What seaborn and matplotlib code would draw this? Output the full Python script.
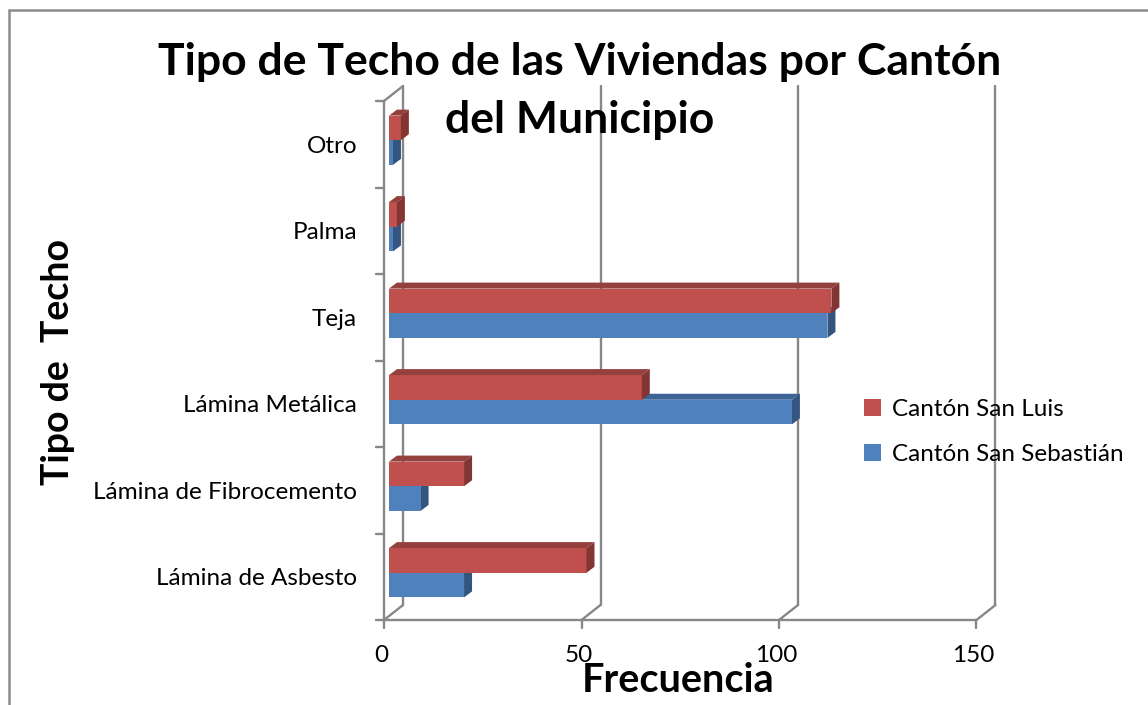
import numpy as np
import pandas as pd
import seaborn as sns
import matplotlib
matplotlib.use("Agg")
import matplotlib.pyplot as plt
from matplotlib.patches import Polygon, Patch
from matplotlib.lines import Line2D

# ---- data ----
categories = ["Otro", "Palma", "Teja", "Lámina Metálica",
              "Lámina de Fibrocemento", "Lámina de Asbesto"]
san_luis = [3, 2, 112, 64, 19, 50]
san_sebastian = [1, 1, 111, 102, 8, 19]
series_names = ["Cantón San Luis", "Cantón San Sebastián"]
x_ticks = [0, 50, 100, 150]
title_lines = ["Tipo de Techo de las Viviendas por Cantón", "del Municipio"]
x_label = "Frecuencia"
y_label = "Tipo de  Techo"

df = pd.DataFrame({
    "Tipo": categories * 2,
    "Frecuencia": san_luis + san_sebastian,
    "Serie": [series_names[0]] * len(categories) + [series_names[1]] * len(categories),
})

sns.set_theme(style="white")
plt.rcParams["font.family"] = ["Lato", "DejaVu Sans"]
plt.rcParams["text.color"] = "black"

W, H = 1148, 705
fig = plt.figure(figsize=(W / 100, H / 100), dpi=100)
fig.patch.set_facecolor("white")


def px(x0, y0, x1, y1):
    return [x0 / W, 1 - y1 / H, (x1 - x0) / W, (y1 - y0) / H]


# bar plane
bx0, by0, bx1, by1 = 389, 97, 981.5, 616
ax = fig.add_axes(px(bx0, by0, bx1, by1))
palette = {series_names[0]: "#C0504D", series_names[1]: "#4F81BD"}
top_col = {series_names[0]: "#94403D", series_names[1]: "#3D6496"}
side_col = {series_names[0]: "#833533", series_names[1]: "#34557F"}

sns.barplot(data=df, y="Tipo", x="Frecuencia", hue="Serie", hue_order=series_names,
            order=categories, palette=palette, width=0.57, orient="h", ax=ax,
            legend=False, saturation=1, edgecolor="none", linewidth=0, zorder=3)
ax.set_xlim(0, 150)
ax.set_ylim(len(categories) - 0.5, -0.5)
ax.axis("off")

xpu = (bx1 - bx0) / 150.0          # px per x unit
ypu = (by1 - by0) / len(categories)  # px per y unit (down)


def off(x, y, dx, dy_down):
    return x + dx / xpu, y + dy_down / ypu


grid = "#878787"
glw = 1.7
ybot, ytop = len(categories) - 0.5, -0.5
BACK = (14, -11)
FRONT = (-5, 4)
FS = 17.5

# back wall gridlines
for v in x_ticks:
    a = off(v, ybot, *BACK)
    b = off(v, ytop, *BACK)
    ax.plot([a[0], b[0]], [a[1], b[1]], color=grid, lw=glw, zorder=1, clip_on=False)

# front left axis
a = off(0, ybot, *FRONT)
b = off(0, ytop, *FRONT)
ax.plot([a[0], b[0]], [a[1], b[1]], color=grid, lw=glw, zorder=1, clip_on=False)
for bnd in np.arange(-0.5, len(categories), 1.0):
    p = off(0, bnd, *FRONT)
    ax.plot([p[0] - 8 / xpu, p[0]], [p[1], p[1]], color=grid, lw=glw, zorder=1, clip_on=False)
# top-left diagonal
a = off(0, ytop, *FRONT)
b = off(0, ytop, *BACK)
ax.plot([a[0], b[0]], [a[1], b[1]], color=grid, lw=glw, zorder=1, clip_on=False)

# floor front line + ticks + diagonals
a = off(0, ybot, *FRONT)
b = off(150, ybot, *FRONT)
ax.plot([a[0], b[0]], [a[1], b[1]], color=grid, lw=glw, zorder=1, clip_on=False)
for v in x_ticks:
    p = off(v, ybot, *FRONT)
    q = off(v, ybot, *BACK)
    ax.plot([p[0], p[0]], [p[1], p[1] + 8 / ypu], color=grid, lw=glw, zorder=1, clip_on=False)
    ax.plot([p[0], q[0]], [p[1], q[1]], color=grid, lw=glw, zorder=1, clip_on=False)
    ax.text(p[0] - 3 / xpu, p[1] + 35 / ypu, str(v), ha="center", va="center",
            fontsize=FS, color="black", clip_on=False)

# 3D faces on bars
ddx, ddy = 8 / xpu, -6 / ypu
n = len(categories)
for i, patch in enumerate(ax.patches[: 2 * n]):
    s = series_names[i // n]
    x0, y0 = patch.get_x(), patch.get_y()
    w, h = patch.get_width(), patch.get_height()
    if w <= 0:
        continue
    zf = 3.5 if s == series_names[0] else 2
    patch.set_zorder(3.2 if s == series_names[0] else 2.5)
    topf = Polygon([(x0, y0), (x0 + w, y0), (x0 + w + ddx, y0 + ddy), (x0 + ddx, y0 + ddy)],
                   closed=True, facecolor=top_col[s], edgecolor="none", zorder=zf, clip_on=False)
    sidef = Polygon([(x0 + w, y0), (x0 + w, y0 + h), (x0 + w + ddx, y0 + h + ddy), (x0 + w + ddx, y0 + ddy)],
                    closed=True, facecolor=side_col[s], edgecolor="none", zorder=zf, clip_on=False)
    ax.add_patch(topf)
    ax.add_patch(sidef)

# category labels
for j, c in enumerate(categories):
    p = off(0, j, *FRONT)
    ax.text(p[0] - 27 / xpu, p[1] + 2 / ypu, c, ha="right", va="center", fontsize=FS,
            color="black", clip_on=False)

# titles and axis labels
fig.text(580 / W, 1 - 62 / H, title_lines[0], ha="center", va="center",
         fontsize=32, fontweight="bold", color="black")
fig.text(580 / W, 1 - 120 / H, title_lines[1], ha="center", va="center",
         fontsize=32, fontweight="bold", color="black")
fig.text(678 / W, 1 - 680 / H, x_label, ha="center", va="center",
         fontsize=28.5, fontweight="bold", color="black")
fig.text(58 / W, 1 - 362 / H, y_label, ha="center", va="center", rotation=90,
         fontsize=27, fontweight="bold", color="black")

# legend
handles = [Patch(facecolor=palette[s], edgecolor="none", label=s) for s in series_names]
leg = fig.legend(handles=handles, loc="center left", bbox_to_anchor=(854 / W, 1 - 432 / H),
                 frameon=False, fontsize=FS, handlelength=0.7, handleheight=0.7,
                 handletextpad=0.45, labelspacing=1.0, borderaxespad=0)
for t in leg.get_texts():
    t.set_color("black")

# outer border (top and left)
fig.add_artist(Line2D([9 / W, 1], [1 - 9.5 / H, 1 - 9.5 / H], color="#8c8c8c", lw=1.8,
                      transform=fig.transFigure))
fig.add_artist(Line2D([9 / W, 9 / W], [0, 1 - 9.5 / H], color="#8c8c8c", lw=1.8,
                      transform=fig.transFigure))

fig.savefig("out.png", dpi=100, facecolor="white")
